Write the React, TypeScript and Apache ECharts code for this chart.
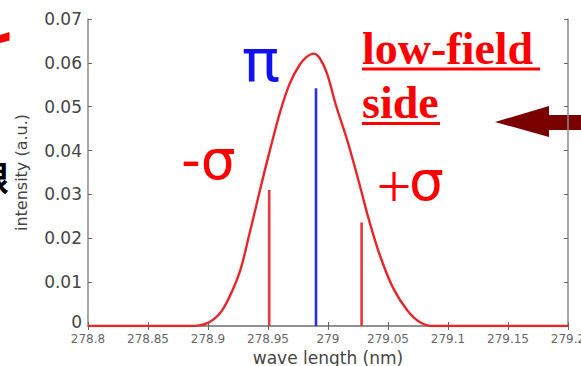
import React, { useEffect, useRef } from "react";
import * as echarts from "echarts";

// Zeeman-split spectral line: measured profile plus the π / σ component stems
const profileWave = [
  278.8, 278.85, 278.885, 278.899, 278.91, 278.918, 278.927, 278.934, 278.94,
  278.946, 278.952, 278.96, 278.968, 278.976, 278.982, 278.988, 278.993,
  278.999, 279.007, 279.016, 279.023, 279.028, 279.034, 279.043, 279.054,
  279.066, 279.077, 279.088, 279.1, 279.15, 279.2,
];
const profileIntensity = [
  0, 0, 0, 0.0006, 0.0029, 0.0067, 0.0128, 0.0204, 0.0272, 0.034, 0.0405,
  0.0487, 0.0552, 0.0594, 0.0613, 0.0621, 0.0611, 0.0577, 0.05, 0.0424, 0.0356,
  0.0305, 0.0243, 0.0163, 0.0088, 0.0036, 0.0008, 0, 0, 0, 0,
];

const stemNames = ["-σ", "π", "+σ"];
const stemWave = [278.951, 278.99, 279.028];
const stemIntensity = [0.031, 0.0542, 0.0236];
const stemColors = ["#e8383a", "#2b2ee8", "#e8383a"];

const xTicks = { min: 278.8, max: 279.2, step: 0.05 };
const yTicks = { min: 0, max: 0.07, step: 0.01 };

const fmt = (v: number) => String(+v.toFixed(2));

export default function App() {
  const ref = useRef<HTMLDivElement>(null);

  useEffect(() => {
    if (!ref.current) return;
    const chart = echarts.init(ref.current, undefined, { renderer: "svg" });

    const axisGrey = "#8a8a8a";
    const tickFont = "DejaVu Sans";

    const baseX = {
      type: "value" as const,
      min: xTicks.min,
      max: xTicks.max,
      interval: xTicks.step,
      axisLine: { show: true, lineStyle: { color: axisGrey, width: 1.5 } },
      axisTick: { show: true, inside: true, length: 4, lineStyle: { color: "#666" } },
      splitLine: { show: false },
    };
    const baseY = {
      type: "value" as const,
      min: yTicks.min,
      max: yTicks.max,
      interval: yTicks.step,
      axisLine: { show: true, lineStyle: { color: axisGrey, width: 1.5 } },
      axisTick: { show: true, inside: true, length: 4, lineStyle: { color: "#666" } },
      splitLine: { show: false },
    };

    const profile = profileWave.map((w, i) => [w, profileIntensity[i]]);

    const stems = stemWave.map((w, i) => ({
      type: "line" as const,
      name: stemNames[i],
      data: [
        [w, 0],
        [w, stemIntensity[i]],
      ],
      symbol: "none",
      z: 3,
      lineStyle: { color: stemColors[i], width: 2.6 },
    }));

    chart.setOption({
      animation: false,
      backgroundColor: "#ffffff",
      grid: {
        left: 88,
        right: 13,
        top: 19,
        bottom: 40,
        containLabel: false,
        outerBoundsMode: "none",
      },
      xAxis: [
        {
          ...baseX,
          position: "bottom",
          name: "wave length (nm)",
          nameLocation: "middle",
          nameGap: 18,
          nameTextStyle: { fontFamily: tickFont, fontSize: 17, color: "#444" },
          axisLabel: {
            formatter: fmt,
            fontFamily: tickFont,
            fontSize: 12,
            color: "#666",
            margin: 7,
            showMaxLabel: true,
          },
        },
        { ...baseX, position: "top", axisLabel: { show: false } },
      ],
      yAxis: [
        {
          ...baseY,
          position: "left",
          name: "intensity (a.u.)",
          nameLocation: "middle",
          nameGap: 59,
          nameRotate: 90,
          nameTextStyle: { fontFamily: tickFont, fontSize: 16, color: "#444" },
          axisLabel: {
            // the zero label sits a little above its tick, clear of the x labels
            formatter: (v: number) => (v === 0 ? "{zero|0}" : fmt(v)),
            fontFamily: tickFont,
            fontSize: 17,
            color: "#444",
            margin: 6,
            rich: {
              zero: {
                fontFamily: tickFont,
                fontSize: 17,
                color: "#444",
                padding: [0, 0, 8, 0],
              },
            },
          },
        },
        { ...baseY, position: "right", axisLabel: { show: false } },
      ],
      series: [
        {
          type: "line",
          name: "profile",
          data: profile,
          symbol: "none",
          smooth: 0.35,
          z: 4,
          lineStyle: { color: "#e8262a", width: 2.4 },
        },
        ...stems,
      ],
      graphic: [
        // component labels
        {
          type: "text",
          x: 261,
          y: 59,
          style: {
            text: "π",
            font: "62px 'Roboto'",
            fill: "#1010f0",
            align: "center",
            verticalAlign: "middle",
          },
        },
        {
          type: "text",
          x: 181,
          y: 160,
          style: {
            text: "-σ",
            font: "55px 'DejaVu Sans'",
            fill: "#ff0000",
            align: "left",
            verticalAlign: "middle",
          },
        },
        {
          type: "text",
          x: 394,
          y: 186,
          style: {
            text: "+",
            font: "62px 'Liberation Serif'",
            fill: "#ff0000",
            align: "center",
            verticalAlign: "middle",
          },
        },
        {
          type: "text",
          x: 409,
          y: 181,
          style: {
            text: "σ",
            font: "55px 'DejaVu Sans'",
            fill: "#ff0000",
            align: "left",
            verticalAlign: "middle",
          },
        },
        // underlined heading
        {
          type: "text",
          x: 362,
          y: 48,
          style: {
            text: "low-field",
            font: "bold 46px 'Liberation Serif'",
            fill: "#ff0000",
            align: "left",
            verticalAlign: "middle",
          },
        },
        {
          type: "rect",
          shape: { x: 362, y: 67.5, width: 178, height: 3 },
          style: { fill: "#ff0000" },
        },
        {
          type: "text",
          x: 362,
          y: 102,
          style: {
            text: "side",
            font: "bold 46px 'Liberation Serif'",
            fill: "#ff0000",
            align: "left",
            verticalAlign: "middle",
          },
        },
        {
          type: "rect",
          shape: { x: 362, y: 122, width: 78, height: 3 },
          style: { fill: "#ff0000" },
        },
        // arrow pointing at the heading
        {
          type: "polygon",
          shape: { points: [[495, 122], [549, 106], [549, 137]] },
          style: { fill: "#7a0000" },
        },
        {
          type: "rect",
          shape: { x: 548, y: 115, width: 40, height: 15 },
          style: { fill: "#7a0000" },
        },
        // edge marks
        {
          type: "polygon",
          shape: { points: [[0, 35], [9.5, 32], [9.5, 40.5], [0, 43]] },
          style: { fill: "#ff0000" },
        },
        {
          type: "text",
          x: 9,
          y: 176,
          style: {
            text: "限",
            font: "bold 34px 'Noto Sans CJK JP'",
            fill: "#000000",
            align: "right",
            verticalAlign: "middle",
          },
        },
      ],
    });

    return () => chart.dispose();
  }, []);

  return (
    <div
      ref={ref}
      style={{ position: "fixed", left: 0, top: 0, width: 581, height: 366 }}
    />
  );
}
